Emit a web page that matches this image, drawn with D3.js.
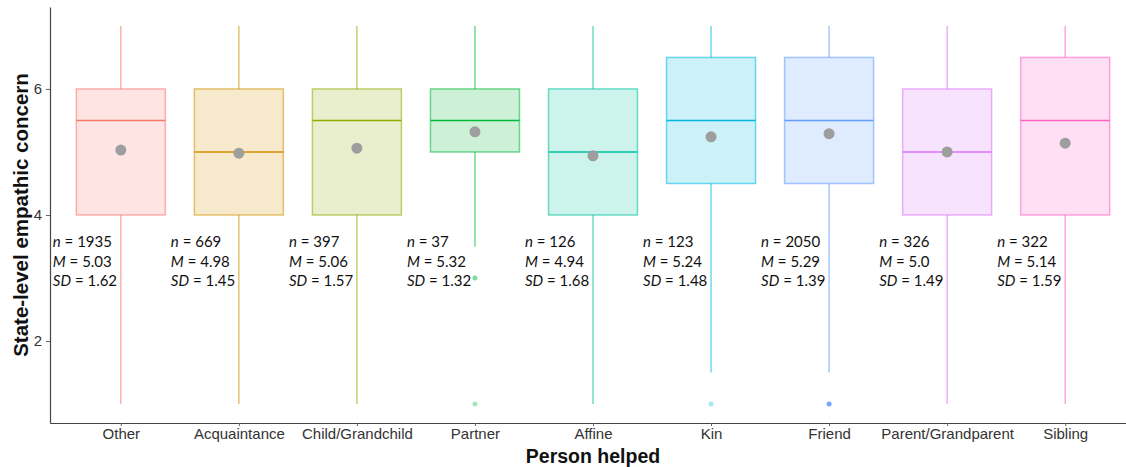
<!DOCTYPE html>
<html>
<head>
<meta charset="utf-8">
<script src="https://cdn.jsdelivr.net/npm/d3@7"></script>
<style>
  body { margin: 0; background: #fff; }
  svg { display: block; }
</style>
</head>
<body>
<div id="chart"></div>
<script>
// data
const categories = ["Other", "Acquaintance", "Child/Grandchild", "Partner", "Affine", "Kin", "Friend", "Parent/Grandparent", "Sibling"];
const q1 =       [4, 4, 4, 5, 4, 4.5, 4.5, 4, 4];
const medians =  [5.5, 5, 5.5, 5.5, 5, 5.5, 5.5, 5, 5.5];
const q3 =       [6, 6, 6, 6, 6, 6.5, 6.5, 6, 6.5];
const whiskLo =  [1, 1, 1, 3.5, 1, 1.5, 1.5, 1, 1];
const whiskHi =  [7, 7, 7, 7, 7, 7, 7, 7, 7];
const means =    [5.03, 4.98, 5.06, 5.32, 4.94, 5.24, 5.29, 5.0, 5.14];
const ns =       [1935, 669, 397, 37, 126, 123, 2050, 326, 322];
const meanLabels = ["5.03", "4.98", "5.06", "5.32", "4.94", "5.24", "5.29", "5.0", "5.14"];
const sdLabels =   ["1.62", "1.45", "1.57", "1.32", "1.68", "1.48", "1.39", "1.49", "1.59"];
const outliers = [
  {cat: "Partner", value: 3},
  {cat: "Partner", value: 1},
  {cat: "Kin", value: 1},
  {cat: "Friend", value: 1}
];
const yTicks = [2, 4, 6];
const colors = ["#F8766D", "#D39200", "#93AA00", "#00BA38", "#00C19F", "#00B9E3", "#619CFF", "#DB72FB", "#FF61C3"];

const boxes = categories.map((c, i) => ({
  cat: c, q1: q1[i], med: medians[i], q3: q3[i],
  lo: whiskLo[i], hi: whiskHi[i], mean: means[i],
  n: ns[i], m: meanLabels[i], sd: sdLabels[i], color: colors[i]
}));

const W = 1126, H = 467;
const margin = {top: 7, left: 50, bottom: 44};
const plotRight = 1136;

const svg = d3.select("#chart").append("svg")
  .attr("width", W)
  .attr("height", H);

const x = d3.scalePoint()
  .domain(categories)
  .range([margin.left, plotRight])
  .padding(0.6);

const y = d3.scaleLinear()
  .domain([0.7, 7.3])
  .range([H - margin.bottom, margin.top]);

const step = x.step();
const boxW = step * 0.754;
const color = d3.scaleOrdinal().domain(categories).range(colors);

// =====================
// BOXES
// =====================
const g = svg.selectAll(".box")
  .data(boxes)
  .join("g")
  .attr("class", "box");

g.append("line")
  .attr("x1", d => x(d.cat)).attr("x2", d => x(d.cat))
  .attr("y1", d => y(d.hi)).attr("y2", d => y(d.q3))
  .attr("stroke", d => d.color)
  .attr("stroke-opacity", 0.65)
  .attr("stroke-width", 1.3);

g.append("line")
  .attr("x1", d => x(d.cat)).attr("x2", d => x(d.cat))
  .attr("y1", d => y(d.q1)).attr("y2", d => y(d.lo))
  .attr("stroke", d => d.color)
  .attr("stroke-opacity", 0.65)
  .attr("stroke-width", 1.3);

g.append("rect")
  .attr("x", d => x(d.cat) - boxW / 2)
  .attr("width", boxW)
  .attr("y", d => y(d.q3))
  .attr("height", d => y(d.q1) - y(d.q3))
  .attr("fill", d => d.color)
  .attr("fill-opacity", 0.2)
  .attr("stroke", d => d.color)
  .attr("stroke-opacity", 0.55)
  .attr("stroke-width", 1.5);

g.append("line")
  .attr("x1", d => x(d.cat) - boxW / 2).attr("x2", d => x(d.cat) + boxW / 2)
  .attr("y1", d => y(d.med)).attr("y2", d => y(d.med))
  .attr("stroke", d => d.color)
  .attr("stroke-width", 1.6);

// outliers (friend ones are stacked many times, so look darker)
const outlierAlpha = {Partner: 0.5, Kin: 0.35, Friend: 0.9};
svg.selectAll(".outlier")
  .data(outliers)
  .join("circle")
  .attr("class", "outlier")
  .attr("cx", d => x(d.cat))
  .attr("cy", d => y(d.value))
  .attr("r", 2.5)
  .attr("fill", d => color(d.cat))
  .attr("fill-opacity", d => d.value === 1 && d.cat === "Partner" ? 0.35 : outlierAlpha[d.cat]);

// mean dots
svg.selectAll(".mean")
  .data(boxes)
  .join("circle")
  .attr("class", "mean")
  .attr("cx", d => x(d.cat))
  .attr("cy", d => y(d.mean))
  .attr("r", 5.5)
  .attr("fill", "#9e9e9e");

// =====================
// ANNOTATIONS
// =====================
const ann = svg.selectAll(".ann")
  .data(boxes)
  .join("text")
  .attr("class", "ann")
  .attr("x", d => x(d.cat) - 68)
  .attr("y", 247)
  .style("font-family", "Lato, 'Open Sans', sans-serif")
  .style("font-size", "15px")
  .style("fill", "#111");

ann.each(function(d) {
  const t = d3.select(this);
  const lines = [["n", " = " + d.n], ["M", " = " + d.m], ["SD", " = " + d.sd]];
  lines.forEach((l, i) => {
    t.append("tspan")
      .attr("x", x(d.cat) - 68)
      .attr("dy", i === 0 ? 0 : 19.5)
      .style("font-style", "italic")
      .text(l[0]);
    t.append("tspan").text(l[1]);
  });
});

// =====================
// AXES
// =====================
const xAxis = svg.append("g")
  .attr("transform", `translate(0,${H - margin.bottom})`)
  .call(d3.axisBottom(x).tickSize(3).tickPadding(2).tickSizeOuter(0));

const yAxis = svg.append("g")
  .attr("transform", `translate(${margin.left},0)`)
  .call(d3.axisLeft(y).tickValues(yTicks).tickFormat(d3.format("d")).tickSize(4).tickPadding(4).tickSizeOuter(0));

[xAxis, yAxis].forEach(a => {
  a.select(".domain").attr("stroke", "#444").attr("stroke-width", 1.2);
  a.selectAll(".tick line").attr("stroke", "#666");
  a.selectAll("text")
    .style("font-family", "'Liberation Sans', Arial, sans-serif")
    .style("font-size", "15px")
    .style("fill", "#333");
});

svg.append("text")
  .attr("x", (margin.left + plotRight) / 2)
  .attr("y", 462.5)
  .attr("text-anchor", "middle")
  .style("font-family", "'Liberation Sans', Arial, sans-serif")
  .style("font-weight", "bold")
  .style("font-size", "19.5px")
  .style("fill", "#111")
  .text("Person helped");

svg.append("text")
  .attr("transform", `translate(28,${(y(7.3) + y(0.7)) / 2}) rotate(-90)`)
  .attr("text-anchor", "middle")
  .style("font-family", "'Liberation Sans', Arial, sans-serif")
  .style("font-weight", "bold")
  .style("font-size", "20.5px")
  .style("fill", "#111")
  .text("State-level empathic concern");
</script>
</body>
</html>
